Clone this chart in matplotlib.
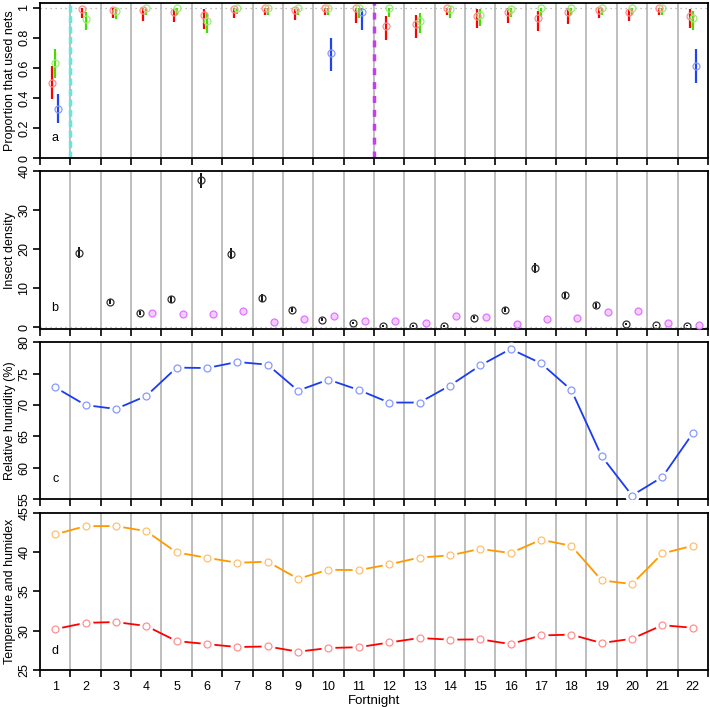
import matplotlib
matplotlib.use('Agg')
import matplotlib.pyplot as plt
import numpy as np

plt.rcParams['font.family'] = ['Liberation Sans', 'DejaVu Sans']
plt.rcParams['font.size'] = 9

nan = np.nan
fortnight = np.arange(1, 23)

# a: proportion that used nets (estimate, lower, upper)
red_est = [0.50, 0.99, 0.985, 0.985, 0.975, 0.95, 0.99, 1.0, 0.985, 1.0, 1.0,
           0.88, 0.893, 1.0, 0.947, 0.97, 0.933, 0.97, 0.987, 0.975, 1.0, 0.947]
red_lo = [0.39, 0.93, 0.93, 0.915, 0.905, 0.86, 0.93, 0.95, 0.92, 0.95, 0.90,
          0.786, 0.80, 0.953, 0.864, 0.90, 0.848, 0.895, 0.93, 0.91, 0.955, 0.864]
red_hi = [0.61, 1.0, 1.0, 1.0, 0.995, 0.99, 1.0, 1.0, 0.995, 1.0, 1.0,
          0.947, 0.95, 1.0, 0.99, 1.0, 0.98, 1.0, 1.0, 0.995, 1.0, 0.99]
green_est = [0.635, 0.925, 0.98, 1.0, 1.0, 0.91, 1.0, 1.0, 1.0, 1.0, 1.0,
             1.0, 0.915, 0.99, 0.953, 0.99, 1.0, 1.0, 1.0, 1.0, 1.0, 0.93]
green_lo = [0.535, 0.855, 0.925, 0.955, 0.955, 0.83, 0.96, 0.955, 0.955, 0.955, 0.93,
            0.938, 0.83, 0.93, 0.88, 0.94, 0.945, 0.955, 0.955, 0.95, 0.955, 0.853]
green_hi = [0.725, 0.97, 0.995, 0.99, 1.0, 0.965, 0.995, 1.0, 0.99, 1.0, 1.0,
            1.0, 0.965, 1.0, 0.99, 1.0, 1.0, 1.0, 1.0, 1.0, 1.0, 0.98]
blue_fn = [1, 10, 11, 22]
blue_est = [0.325, 0.70, 0.975, 0.615]
blue_lo = [0.235, 0.58, 0.853, 0.50]
blue_hi = [0.425, 0.80, 1.0, 0.725]

# b: insect density (mean, se)
black_dens = [nan, 19.05, 6.5, 3.5, 7.1, 37.7, 18.9, 7.4, 4.5, 1.9, 1.0,
              0.25, 0.2, 0.25, 2.4, 4.5, 15.2, 8.2, 5.55, 0.85, 0.4, 0.35]
black_se = [nan, 1.4, 0.7, 0.5, 0.8, 2.0, 1.4, 1.0, 0.6, 0.4, 0.3,
            0.2, 0.2, 0.2, 0.4, 0.7, 1.3, 0.8, 0.6, 0.3, 0.2, 0.2]
pink_dens = [nan, nan, nan, 3.5, 3.4, 3.3, 4.2, 1.4, 2.1, 2.9, 1.5,
             1.6, 1.1, 2.9, 2.6, 0.8, 2.05, 2.2, 3.85, 4.1, 1.1, 0.6]
pink_se = [nan, nan, nan, 0.6, 0.5, 0.5, 0.6, 0.5, 0.5, 0.5, 0.4,
           0.4, 0.4, 0.5, 0.5, 0.4, 0.5, 0.5, 0.6, 0.6, 0.4, 0.3]

# c: relative humidity
humidity = [72.83, 70.0, 69.38, 71.45, 75.96, 75.9, 76.86, 76.43, 72.3, 74.05, 72.4,
            70.4, 70.4, 73.1, 76.3, 78.93, 76.65, 72.4, 61.85, 55.6, 58.55, 65.5]

# d: humidex and temperature
humidex = [42.24, 43.3, 43.3, 42.66, 39.95, 39.27, 38.64, 38.77, 36.6, 37.75, 37.7,
           38.43, 39.3, 39.57, 40.4, 39.87, 41.56, 40.8, 36.4, 35.93, 39.82, 40.8]
temperature = [30.2, 31.0, 31.1, 30.6, 28.68, 28.3, 27.92, 28.0, 27.33, 27.8, 27.9,
               28.5, 29.07, 28.86, 28.9, 28.3, 29.4, 29.5, 28.43, 28.98, 30.7, 30.37]

fig = plt.figure(figsize=(7.1, 7.07), dpi=100)
left, width = 0.0563, 0.9408
boxes = [(0.7765, 0.2195), (0.5347, 0.2228), (0.2938, 0.2221), (0.0523, 0.2225)]
axes = [fig.add_axes([left, b, width, h]) for b, h in boxes]

bounds = np.arange(0.5, 23.0, 1.0)


def frame(ax, ylim, yticks, ylabels, ylab, letter, letter_y):
	ax.set_xlim(0.5, 22.5)
	ax.set_ylim(*ylim)
	for b in bounds[1:-1]:
		ax.axvline(b, color='#BEBEBE', lw=1.4, zorder=0)
	ax.set_xticks(bounds)
	ax.set_xticklabels([])
	ax.set_yticks(yticks)
	ax.set_yticklabels(ylabels, rotation=90, va='center')
	ax.tick_params(direction='out', length=5, width=1.2, labelsize=9, pad=2)
	for s in ax.spines.values():
		s.set_linewidth(1.3)
	ax.set_ylabel(ylab, fontsize=9)
	ax.yaxis.set_label_coords(-0.036, 0.5)
	ax.text(1, letter_y, letter, ha='center', va='center', fontsize=9)


# panel a
ax = axes[0]
frame(ax, (0, 1.033), [0, 0.2, 0.4, 0.6, 0.8, 1.0], ['0', '0.2', '0.4', '0.6', '0.8', '1'],
      'Proportion that used nets', 'a', 0.13)
ax.axhline(1.0, color='#AAAAAA', lw=0.9, ls=(0, (1, 3)), zorder=1)
ax.axvline(1.5, color='#66E8D8', lw=2.5, ls=(0, (2, 1)), zorder=1)
ax.axvline(11.5, color='#C040F0', lw=2.5, ls=(0, (2, 2)), zorder=1)
series = [
	(fortnight - 0.1, red_est, red_lo, red_hi, '#FF0000', '#FF8C8C'),
	(fortnight + 0.0, green_est, green_lo, green_hi, '#44DD00', '#99EE77'),
	(np.array(blue_fn) + 0.1, blue_est, blue_lo, blue_hi, '#2244EE', '#8899FF'),
]
for x, est, lo, hi, col, light in series:
	ax.vlines(x, lo, hi, color=col, lw=1.6, zorder=2)
	ax.plot(x, est, 'o', mfc='none', mec=light, ms=5, mew=0.9, zorder=3)

# panel b
ax = axes[1]
frame(ax, (-0.5, 40), [0, 10, 20, 30, 40], ['0', '10', '20', '30', '40'],
      'Insect density', 'b', 4.8)
ax.axhline(0, color='#AAAAAA', lw=0.9, ls=(0, (1, 3)), zorder=1)
bd = np.array(black_dens)
bs = np.array(black_se)
pd_ = np.array(pink_dens)
ps = np.array(pink_se)
ax.vlines(fortnight - 0.2, bd - bs, bd + bs, color='black', lw=1.3, zorder=2)
ax.plot(fortnight - 0.2, bd, 'o', mfc='none', mec='#333333', ms=5, mew=0.9, zorder=3)
ax.vlines(fortnight + 0.2, pd_ - ps, pd_ + ps, color='#CC33FF', lw=1.3, zorder=2)
ax.plot(fortnight + 0.2, pd_, 'o', mfc='#F4CCFF', mec='#DD77FF', ms=5, mew=0.9, zorder=3)


def gapline(ax, y, col, light):
	ax.plot(fortnight, y, '-', color=col, lw=1.3, zorder=2)
	ax.plot(fortnight, y, 'o', mfc='white', mec='white', ms=9, zorder=3)
	ax.plot(fortnight, y, 'o', mfc='none', mec=light, ms=5, mew=0.9, zorder=4)


# panel c
ax = axes[2]
frame(ax, (55, 80), [55, 60, 65, 70, 75, 80], ['55', '60', '65', '70', '75', '80'],
      'Relative humidity (%)', 'c', 58.2)
gapline(ax, humidity, '#1A3CF0', '#8899FF')

# panel d
ax = axes[3]
frame(ax, (25, 45), [25, 30, 35, 40, 45], ['25', '30', '35', '40', '45'],
      'Temperature and humidex', 'd', 27.45)
gapline(ax, humidex, '#FF9900', '#FFC070')
gapline(ax, temperature, '#FF0000', '#FF9090')
ax.set_xticks(fortnight, minor=True)
ax.set_xticklabels([str(i) for i in fortnight], minor=True)
ax.tick_params(axis='x', which='minor', length=0, labelsize=9, pad=8)
ax.set_xlabel('Fortnight', fontsize=9.5, labelpad=1)

fig.savefig('out.png', dpi=100)
